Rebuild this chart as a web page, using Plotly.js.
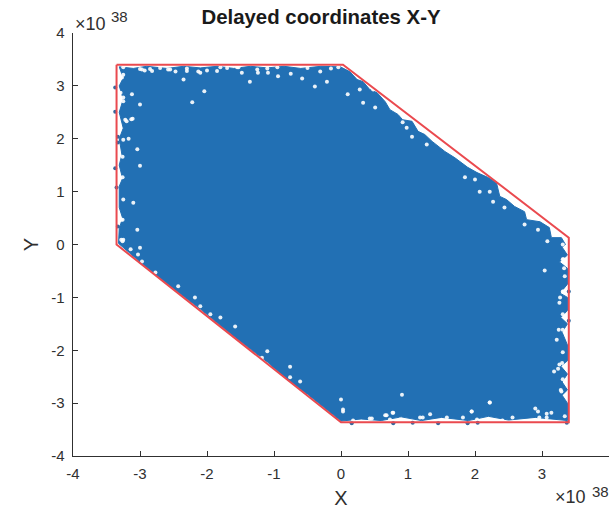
<!DOCTYPE html>
<html><head><meta charset="utf-8">
<script src="https://cdn.plot.ly/plotly-3.0.1.min.js"></script>
<style>html,body{margin:0;padding:0;background:#fff;overflow:hidden}</style>
</head><body><div id="chart" style="width:610px;height:509px"></div>
<script>
// All values in units of 1e38.
const boundX = [-3.35,0.03,3.40,3.40,0,-3.35,-3.35];
const boundY = [3.40,3.40,0.13,-3.36,-3.36,0,3.40];

// Outline of the solid mass of points
const cloudX = [-3.31,-3.1,-2.9,-2.6,-2.35,-2.1,-1.85,-1.6,-1.35,-1.1,-.85,-.6,-.3,-.01,.13,.24,.33,.43,.54,.66,.73,.85,.92,1.06,1.15,1.25,1.36,1.48,1.55,1.70,1.89,2.03,2.19,2.32,2.37,2.47,2.59,2.74,2.77,2.97,3.11,3.14,3.29,3.35,3.30,3.38,3.26,3.38,3.38,3.27,3.38,3.38,3.28,3.38,3.30,3.38,3.38,3.28,3.38,3.30,3.38,3.30,3.38,3.38,3.1,2.9,2.5,2.2,1.9,1.5,1.2,.9,.6,.3,0,-.5,-.8,-1.1,-1.6,-2.1,-2.6,-3.0,-3.32,-3.31,-3.26,-3.31,-3.31,-3.26,-3.31,-3.27,-3.31,-3.25,-3.31,-3.25,-3.31,-3.25,-3.31];
const cloudY = [3.36,3.33,3.37,3.33,3.37,3.34,3.37,3.33,3.37,3.34,3.37,3.33,3.37,3.36,3.27,3.12,3.08,2.93,2.87,2.70,2.55,2.46,2.36,2.33,2.14,2.08,1.95,1.83,1.76,1.64,1.46,1.36,1.27,1.17,.91,.85,.72,.62,.47,.43,.32,.13,.13,0,-.05,-.20,-.33,-.45,-.75,-.92,-1.0,-1.25,-1.38,-1.5,-1.66,-1.9,-2.2,-2.3,-2.45,-2.6,-2.75,-2.85,-3.0,-3.33,-3.30,-3.27,-3.32,-3.25,-3.33,-3.27,-3.33,-3.26,-3.33,-3.30,-3.34,-2.83,-2.56,-2.22,-1.74,-1.22,-.74,-.33,.02,.3,.5,.7,1.1,1.25,1.5,1.7,2.0,2.2,2.5,2.75,3.0,3.15,3.36];

// Visible white gaps in the point mass
const gapX = [-2.97,-2.82,-2.58,-2.30,-2.10,-1.85,-3.25,-3.27,-3.29,-3.25,-3.0,-2.22,-2.04,-3.12,-2.35,-1.53,-1.36,-1.24,-1.09,-.94,-.75,-.58,-.21,-.31,-.04,.10,-.39,-1.48,-3.25,-3.25,-3.22,-3.25,-3.04,-3.26,-3.26,-3.10,-3.25,-3.26,-3.04,-3.26,-3.0,-3.11,3.31,3.31,3.04,3.34,3.31,3.26,3.31,3.31,3.22,3.26,3.31,3.29,3.14,2.94,3.34,3.07,3.31,.46,.66,.77,.88,.91,1.18,1.33,1.58,1.95,2.22,2.03,2.41,.03,.18,-3.25,-3.0,-3.03,-3.14,-2.97,-2.77,-2.43,-2.18,-2.10,-1.95,-1.80,-1.58,-1.10,-.76,-1.18,-.61,-.76,0,.03,
  -3.0,-2.93,-2.85,-2.55,-2.47,-2.13,-2.0,-1.80,-1.55,-1.25,-.95,-3.2,-3.13,-3.17,-3.28,-3.28,
  3.32,3.25,3.30,3.24,3.32,3.28,3.33,3.18,3.27,
  .43,.68,.78,1.22,1.95,2.22,1.82,2.56,2.96,3.07,2.90,.73,
  .33,.51,.98,.92,1.06,1.28,.28,.48,2.0,2.07,2.27,2.44,2.74,2.94,3.08,1.85,2.22,
  -2.7,-2.3,-1.7,-1.1,-.5,-.15];
const gapY = [3.31,3.28,3.31,3.28,3.25,3.28,3.35,3.16,2.87,2.71,2.65,2.69,2.90,2.84,3.12,3.35,3.08,3.25,3.25,3.18,3.23,3.14,3.08,3.27,3.35,2.84,2.99,3.25,3.21,2.78,2.36,1.98,1.80,1.66,1.27,.79,.85,.47,.28,.06,1.49,2.38,0,-.28,-.49,-.60,-.89,-1.10,-1.32,-1.61,-1.80,-2.27,-2.55,-2.78,-3.18,-3.16,-3.25,-3.27,-2.04,-3.29,-3.23,-3.18,-3.31,-2.84,-3.27,-3.21,-3.27,-3.16,-2.99,-3.31,-3.33,-3.16,-3.33,.09,-.06,-.19,-.09,-.32,-.53,-.79,-1.0,-1.17,-1.32,-1.38,-1.55,-2.02,-2.51,-2.14,-2.59,-2.31,-2.93,-3.12,
  3.32,3.29,3.32,3.31,3.27,3.27,3.29,3.35,3.35,3.31,3.35,2.33,2.37,2.0,.09,.47,
  -.89,-1.61,-2.24,-2.35,-.28,-2.75,-.45,-2.4,-1.0,
  -3.29,-3.23,-3.18,-3.27,-3.16,-2.99,-3.27,-3.27,-3.27,-3.2,-3.1,-3.31,
  2.68,2.59,2.21,2.31,2.04,1.89,2.93,2.93,1.23,1.0,.81,.70,.38,.28,.06,1.27,1.0,
  3.34,3.33,3.34,3.33,3.34,3.33];

// Individual points that stand clear of the mass, on the red boundary
const strayX = [-3.37,-3.37,-3.37,-3.35,-3.33,-3.33,-3.33,.16,.78,1.07,1.45,1.89,2.04,3.37,3.40,3.40];
const strayY = [2.97,2.51,1.44,1.08,.34,2.04,1.93,-3.38,-3.38,-3.37,-3.38,-3.38,-3.37,-3.37,-.89,-1.44];

const xTicks = [-4,-3,-2,-1,0,1,2,3,4];
const yTicks = [-4,-3,-2,-1,0,1,2,3,4];
const BLUE = '#2270b4', RED = '#ea4a4f', INK = '#303030';
const FONT = '"Liberation Sans", Arial, sans-serif';

const traces = [
  {x: cloudX, y: cloudY, mode:'lines', fill:'toself', fillcolor:BLUE, line:{color:BLUE,width:1}, hoverinfo:'skip'},
  {x: gapX, y: gapY, mode:'markers', marker:{color:'#ffffff',size:4,opacity:.9,line:{width:0}}, hoverinfo:'skip'},
  {x: strayX, y: strayY, mode:'markers', marker:{color:'#33689f',size:4,line:{width:0}}, hoverinfo:'skip'},
  {x: boundX, y: boundY, mode:'lines', line:{color:RED,width:2}, hoverinfo:'skip'}
];
const axis = ticks => ({range:[-4,4], tickmode:'array', tickvals:ticks, ticktext:ticks.map(t=>t<0?'-'+(-t):''+t),
  ticks:'inside', ticklen:5, tickwidth:1, tickcolor:INK, showline:true, linecolor:INK, linewidth:1.4,
  showgrid:false, zeroline:false, mirror:false, tickfont:{family:FONT,size:15,color:INK}, ticklabelstandoff:4});
const expo = (xp, yp, text, size) => ({xref:'paper',yref:'paper',xanchor:'left',yanchor:'middle',
  x:(xp-73)/536.5, y:(456-yp)/423, showarrow:false, text:text, font:{family:FONT,size:size,color:INK}, borderpad:0});
const layout = {
  width:610, height:509, showlegend:false, paper_bgcolor:'#fff', plot_bgcolor:'#fff',
  margin:{l:73,r:0.5,t:33,b:53},
  title:{text:'<b>Delayed coordinates X-Y</b>', font:{family:FONT,size:20.4,color:'#1a1a1a'}, x:321/610, xanchor:'center', y:1-17/509, yanchor:'middle'},
  xaxis:Object.assign(axis(xTicks),{title:{text:'X',font:{family:FONT,size:20,color:INK},standoff:12}}),
  yaxis:Object.assign(axis(yTicks),{title:{text:'Y',font:{family:FONT,size:20,color:INK},standoff:7}}),
  annotations:[
    expo(74,24,'×10',18), expo(110,16,'38',15),
    expo(554,497,'×10',18), expo(591,491,'38',15)
  ]
};
Plotly.newPlot('chart',traces,layout,{displayModeBar:false,staticPlot:true});
</script></body></html>
